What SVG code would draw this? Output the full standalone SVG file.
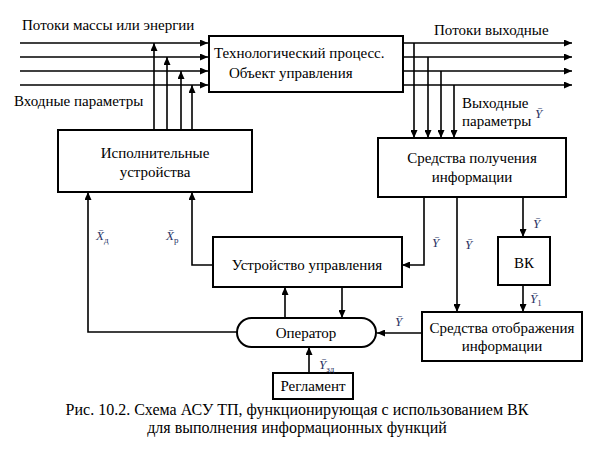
<svg xmlns="http://www.w3.org/2000/svg" width="594" height="452" viewBox="0 0 594 452">
<defs>
<marker id="ah" markerUnits="userSpaceOnUse" markerWidth="8" markerHeight="7" refX="8" refY="3.5" orient="auto">
<path d="M0,0 L8,3.5 L0,7 z" fill="#000"/>
</marker>
<style>
.box{fill:#fff;stroke:#000;stroke-width:2}
.ar{fill:none;stroke:#000;stroke-width:1.6;marker-end:url(#ah)}
.t{font-family:'Liberation Serif','Times New Roman',serif;font-size:15px;fill:#000}
.c{text-anchor:middle}
.v{font-family:'Liberation Serif','Times New Roman',serif;font-size:13px;font-style:italic;fill:#2a3566}
.s{font-size:9px;font-style:normal}
.cap{font-size:16px}
</style>
</defs>
<rect width="594" height="452" fill="#fff"/>

<g id="connectors">
<line class="ar" x1="20" y1="43" x2="208" y2="43"/>
<line class="ar" x1="20" y1="57" x2="208" y2="57"/>
<line class="ar" x1="20" y1="71" x2="208" y2="71"/>
<line class="ar" x1="20" y1="85" x2="208" y2="85"/>
<line class="ar" x1="154" y1="130" x2="154" y2="43"/>
<line class="ar" x1="167" y1="130" x2="167" y2="57"/>
<line class="ar" x1="181" y1="130" x2="181" y2="71"/>
<line class="ar" x1="192" y1="130" x2="192" y2="85"/>
<line class="ar" x1="404" y1="43" x2="572" y2="43"/>
<line class="ar" x1="404" y1="57" x2="572" y2="57"/>
<line class="ar" x1="404" y1="71" x2="572" y2="71"/>
<line class="ar" x1="404" y1="85" x2="572" y2="85"/>
<line class="ar" x1="414" y1="43" x2="414" y2="138"/>
<line class="ar" x1="428" y1="57" x2="428" y2="138"/>
<line class="ar" x1="441" y1="71" x2="441" y2="138"/>
<line class="ar" x1="454" y1="85" x2="454" y2="138"/>
<polyline class="ar" points="424,197 424,265 402,265"/>
<line class="ar" x1="457" y1="197" x2="457" y2="312"/>
<line class="ar" x1="523" y1="197" x2="523" y2="237"/>
<line class="ar" x1="523" y1="285" x2="523" y2="312"/>
<line class="ar" x1="422" y1="333" x2="377" y2="333"/>
<polyline class="ar" points="237,332 88,332 88,192"/>
<polyline class="ar" points="213,265 192,265 192,192"/>
<line class="ar" x1="285" y1="318" x2="285" y2="287"/>
<line class="ar" x1="342" y1="287" x2="342" y2="318"/>
<line class="ar" x1="309" y1="373" x2="309" y2="347"/>
</g>

<g id="process">
<rect class="box" x="209" y="36" width="194" height="56"/>
<text class="t" x="214" y="58">Технологический процесс.</text>
<text class="t" x="229" y="78">Объект управления</text>
</g>

<g id="actuators">
<rect class="box" x="58" y="130" width="194" height="62"/>
<text class="t c" x="155" y="158">Исполнительные</text>
<text class="t c" x="155" y="177">устройства</text>
</g>

<g id="acquisition">
<rect class="box" x="378" y="138" width="188" height="59"/>
<text class="t c" x="472" y="163">Средства получения</text>
<text class="t c" x="472" y="182">информации</text>
</g>

<g id="control">
<rect class="box" x="213" y="237" width="189" height="50"/>
<text class="t c" x="307" y="270">Устройство управления</text>
</g>

<g id="vk">
<rect class="box" x="498" y="237" width="52" height="48"/>
<text class="t c" x="524" y="268">ВК</text>
</g>

<g id="display">
<rect class="box" x="422" y="312" width="160" height="49"/>
<text class="t c" x="502" y="333">Средства отображения</text>
<text class="t c" x="502" y="351">информации</text>
</g>

<g id="operator">
<path class="box" d="M251.5,318 H361.5 A14.5,14.5 0 0 1 361.5,347 H251.5 A14.5,14.5 0 0 1 251.5,318 Z"/>
<text class="t c" x="306" y="338">Оператор</text>
</g>

<g id="reglament">
<rect class="box" x="273" y="373" width="80" height="26"/>
<text class="t c" x="313" y="391">Регламент</text>
</g>

<g id="labels">
<text class="t" x="22" y="30">Потоки массы или энергии</text>
<text class="t" x="14" y="106">Входные параметры</text>
<text class="t" x="434" y="35">Потоки выходные</text>
<text class="t" x="462" y="108">Выходные</text>
<text class="t" x="462" y="126">параметры</text>
<text class="v" x="535" y="118">Ȳ</text>
<text class="v" x="96" y="240">X̄<tspan class="s" dy="3">д</tspan></text>
<text class="v" x="166" y="240">X̄<tspan class="s" dy="3">р</tspan></text>
<text class="v" x="432" y="247">Ȳ</text>
<text class="v" x="465" y="249">Ȳ</text>
<text class="v" x="533" y="228">Ȳ</text>
<text class="v" x="530" y="303">Ȳ<tspan class="s" dy="3">1</tspan></text>
<text class="v" x="395" y="326">Ȳ</text>
<text class="v" x="319" y="369">Ȳ<tspan class="s" dy="3">зд</tspan></text>
</g>

<g id="caption">
<text class="t c cap" x="297" y="415">Рис. 10.2. Схема АСУ ТП, функционирующая с использованием ВК</text>
<text class="t c cap" x="297" y="433">для выполнения информационных функций</text>
</g>
</svg>
